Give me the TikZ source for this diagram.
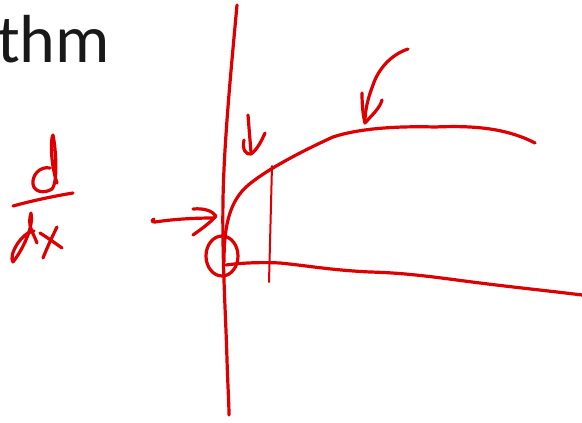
\documentclass[tikz,border=0pt]{standalone}
\usepackage{fontspec}
\setmainfont{Carlito}
\definecolor{ink}{RGB}{222,0,0}
\begin{document}
\begin{tikzpicture}[x=1pt,y=-1pt,
  pen/.style={draw=ink,line width=3.2pt,line cap=round,line join=round},
  thin pen/.style={draw=ink,line width=2pt,line cap=round,line join=round}]
\useasboundingbox (0,0) rectangle (582,423);
\fill[white] (0,0) rectangle (582,423);
% title text
\node[anchor=base west,inner sep=0pt,text=black!90] (title) at (-3,63) {\fontsize{68}{70}\selectfont thm};
% d/dx
\draw[pen] (50,168) .. controls (40,166) and (32,175) .. (33,184) .. controls (34,192) and (44,194) .. (52,189)
  .. controls (58,182) and (56,150) .. (53,135) .. controls (50,140) and (51,165) .. (57,183);
\draw[pen] (13,206) .. controls (35,200) and (55,196) .. (73,193);
\draw[pen] (37,243) .. controls (33,232) and (27,226) .. (31,213) .. controls (34,225) and (24,248) .. (13,262)
  .. controls (8,255) and (22,232) .. (34,231);
\draw[pen] (57,227) .. controls (52,237) and (47,248) .. (43,258);
\draw[pen] (40,233) .. controls (48,238) and (55,243) .. (62,248);
% vertical axis
\draw[pen] (237,5) .. controls (232,60) and (224,140) .. (223,200) .. controls (222,260) and (226,320) .. (227,360) .. controls (228,390) and (229,405) .. (229,415);
% circle
\draw[pen] (222,256) ellipse [x radius=16,y radius=20];
% log curve
\draw[pen] (224,262) .. controls (224,230) and (228,205) .. (245,188) .. controls (262,172) and (300,152) .. (333,137)
  .. controls (360,128) and (400,126) .. (435,127) .. controls (480,125) and (510,130) .. (535,143);
% vertical tick
\draw[thin pen] (272,166) -- (269,282);
% horizontal axis
\draw[pen] (226,265) .. controls (240,263) and (260,262) .. (280,263) .. controls (310,266) and (330,270) .. (370,272)
  .. controls (410,273) and (440,278) .. (480,283) .. controls (520,288) and (550,291) .. (582,295);
% left arrow
\draw[pen] (154,219) .. controls (151,221) and (152,222) .. (155,222) .. controls (175,219) and (195,218) .. (214,218);
\draw[pen] (193,209) .. controls (205,208) and (212,211) .. (216,216) .. controls (210,223) and (200,230) .. (193,235);
% small down arrow
\draw[pen] (248,115) .. controls (249,128) and (250,140) .. (251,152);
\draw[pen] (244,140) .. controls (242,150) and (246,155) .. (251,154) .. controls (257,150) and (262,140) .. (265,133);
% big arrow
\draw[pen] (408,49) .. controls (390,55) and (378,70) .. (373,85) .. controls (368,98) and (365,110) .. (365,122);
\draw[pen] (362,93) .. controls (362,105) and (363,115) .. (365,123) .. controls (372,115) and (380,108) .. (382,100);
\end{tikzpicture}
\end{document}
